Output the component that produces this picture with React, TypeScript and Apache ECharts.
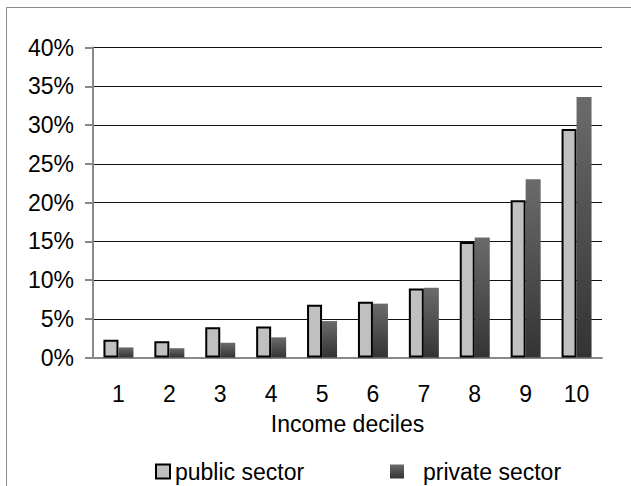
import React, { useEffect, useRef } from "react";
import * as echarts from "echarts";

// Income deciles on the category axis
const deciles = ["1", "2", "3", "4", "5", "6", "7", "8", "9", "10"];
// Share of each decile, in percent
const publicSector = [2.3, 2.1, 3.9, 4.0, 6.8, 7.2, 8.9, 14.9, 20.3, 29.5];
const privateSector = [1.3, 1.2, 1.9, 2.6, 4.7, 6.95, 9.0, 15.5, 23.0, 33.6];
// Value axis range and step, in percent
const yMin = 0;
const yMax = 40;
const yStep = 5;

const FONT = "'Liberation Sans', Arial, sans-serif";

export default function App() {
  const ref = useRef<HTMLDivElement>(null);

  useEffect(() => {
    if (!ref.current) return;
    const chart = echarts.init(ref.current, null, { renderer: "svg" });
    const darkGradient = new echarts.graphic.LinearGradient(0, 0, 0, 1, [
      { offset: 0, color: "#6b6b6b" },
      { offset: 1, color: "#333333" },
    ]);
    chart.setOption({
      animation: false,
      backgroundColor: "#ffffff",
      textStyle: { fontFamily: FONT, color: "#000" },
      graphic: [
        {
          type: "rect",
          shape: { x: 6.5, y: 7.5, width: 700, height: 600 },
          style: { fill: "none", stroke: "#8c8c8c", lineWidth: 1 },
          silent: true,
        },
      ],
      grid: { left: 93, right: 29, top: 47.5, height: 310 },
      legend: [
        {
          data: ["public sector"],
          icon: "rect",
          left: 150,
          top: 455,
          itemWidth: 14,
          itemHeight: 14,
          textStyle: { fontSize: 23, fontFamily: FONT, color: "#000" },
        },
        {
          data: [
            {
              name: "private sector",
              textStyle: { padding: [0, 0, 0, 14] },
            },
          ],
          icon: "rect",
          left: 385,
          top: 455,
          itemWidth: 14,
          itemHeight: 14,
          textStyle: { fontSize: 23, fontFamily: FONT, color: "#000" },
        },
      ],
      xAxis: {
        type: "category",
        data: deciles,
        name: "Income deciles",
        nameLocation: "middle",
        nameGap: 55,
        nameTextStyle: { fontSize: 23, fontFamily: FONT, color: "#000" },
        axisLine: { lineStyle: { color: "#888888", width: 2 } },
        axisTick: { length: 8, lineStyle: { color: "#888888", width: 2 } },
        axisLabel: { fontSize: 23, fontFamily: FONT, color: "#000", margin: 25 },
      },
      yAxis: {
        type: "value",
        min: yMin,
        max: yMax,
        interval: yStep,
        axisLine: { show: true, lineStyle: { color: "#888888", width: 2 } },
        axisTick: { show: true, length: 8, lineStyle: { color: "#888888", width: 2 } },
        axisLabel: {
          fontSize: 23,
          fontFamily: FONT,
          color: "#000",
          margin: 19,
          formatter: "{value}%",
        },
        splitLine: { lineStyle: { color: "#111111", width: 1 } },
      },
      series: [
        {
          name: "public sector",
          type: "bar",
          data: publicSector,
          barWidth: 15,
          barGap: "0%",
          itemStyle: { color: "#c0c0c0", borderColor: "#000", borderWidth: 2 },
        },
        {
          name: "private sector",
          type: "bar",
          data: privateSector,
          barWidth: 15,
          barGap: "0%",
          itemStyle: { color: darkGradient },
        },
      ],
    });
    return () => chart.dispose();
  }, []);

  return (
    <div
      ref={ref}
      style={{ position: "fixed", left: 0, top: 0, width: 631, height: 486, background: "#fff" }}
    />
  );
}
